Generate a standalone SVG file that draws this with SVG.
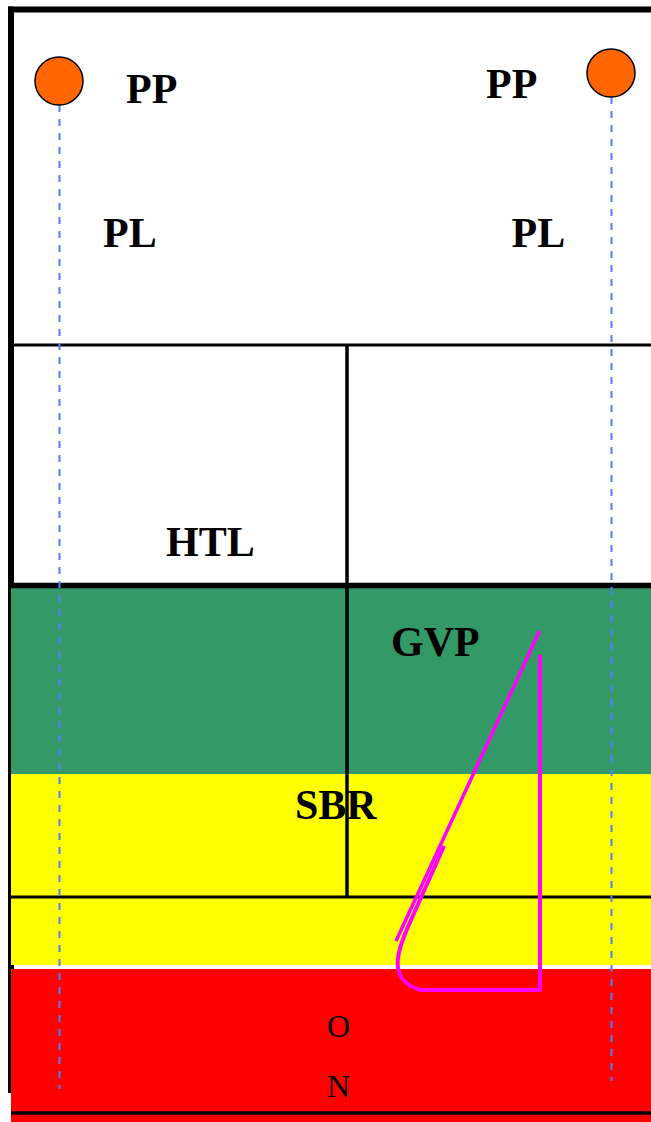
<svg xmlns="http://www.w3.org/2000/svg" width="651" height="1122" viewBox="0 0 651 1122">
  <style>
    .lbl { font-family: "Liberation Serif", "Times New Roman", serif; font-weight: bold; font-size: 42px; fill: #000; }
    .small { font-family: "Liberation Serif", "Times New Roman", serif; font-size: 32px; fill: #000; }
    .ln { stroke: #000; fill: none; }
    .dash { stroke: #4f7fff; stroke-width: 2; stroke-dasharray: 7 7; fill: none; }
    .mag { stroke: #ff00ff; fill: none; stroke-linejoin: round; }
    .pt { fill: #ff6600; stroke: #000; stroke-width: 1.5; }
  </style>
  <rect x="0" y="0" width="651" height="1122" fill="#ffffff"/>
  <g id="frame">
    <line class="ln" x1="11" y1="6.5" x2="11" y2="1093" stroke-width="6"/>
    <line class="ln" x1="8" y1="9.5" x2="651" y2="9.5" stroke-width="6"/>
  </g>
  <g id="layer-GVP">
    <rect x="11" y="588" width="640" height="186" fill="#339966"/>
  </g>
  <g id="layer-SBR">
    <rect x="11" y="774" width="640" height="191" fill="#ffff00"/>
  </g>
  <g id="layer-ON">
    <rect x="11" y="969" width="640" height="153" fill="#ff0000"/>
  </g>
  <g id="grid">
    <line class="ln" x1="11" y1="345" x2="651" y2="345" stroke-width="3"/>
    <line class="ln" x1="8" y1="585.5" x2="651" y2="585.5" stroke-width="5.5"/>
    <line class="ln" x1="347" y1="345" x2="347" y2="897" stroke-width="3.5"/>
    <line class="ln" x1="11" y1="897" x2="651" y2="897" stroke-width="3"/>
    <line class="ln" x1="11" y1="1113" x2="651" y2="1113" stroke-width="3.5"/>
  </g>
  <g id="connectors">
    <line class="dash" x1="59.5" y1="105" x2="59.5" y2="1089"/>
    <line class="dash" x1="611.5" y1="97" x2="611.5" y2="1081"/>
    <line class="mag" x1="539.5" y1="631" x2="396" y2="941" stroke-width="3.5"/>
    <path class="mag" stroke-width="4" d="M444 846 L411 920 C403 938 396 955 398 968 C400 980 410 987 420 990 L540 990 L540 655"/>
  </g>
  <g id="node-PP-left">
    <circle class="pt" cx="59" cy="81" r="24"/>
    <text class="lbl" x="126" y="103">PP</text>
  </g>
  <g id="node-PP-right">
    <circle class="pt" cx="611" cy="73" r="24"/>
    <text class="lbl" x="486" y="98">PP</text>
  </g>
  <g id="node-PL-left">
    <text class="lbl" x="103" y="246.5">PL</text>
  </g>
  <g id="node-PL-right">
    <text class="lbl" x="511.5" y="246.5">PL</text>
  </g>
  <g id="node-HTL">
    <text class="lbl" x="166" y="556">HTL</text>
  </g>
  <g id="node-GVP">
    <text class="lbl" x="391" y="656">GVP</text>
  </g>
  <g id="node-SBR">
    <text class="lbl" x="295" y="819">SBR</text>
  </g>
  <g id="node-O">
    <text class="small" x="327" y="1037">O</text>
  </g>
  <g id="node-N">
    <text class="small" x="327" y="1097">N</text>
  </g>
</svg>
